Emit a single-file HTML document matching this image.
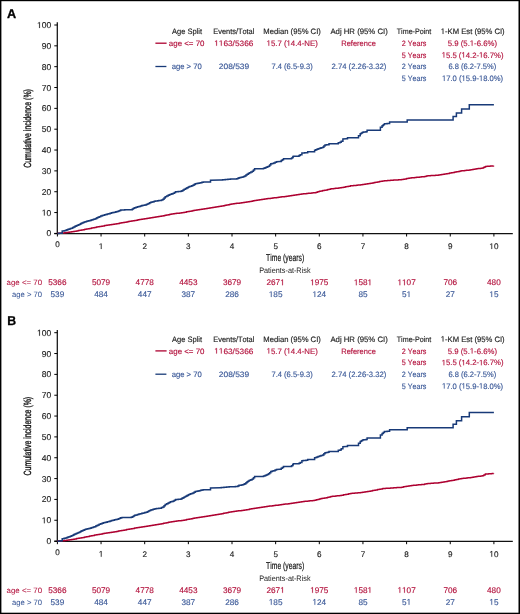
<!DOCTYPE html>
<html><head><meta charset="utf-8"><style>
html,body{margin:0;padding:0;background:#fff;}
body{width:520px;height:614px;overflow:hidden;}
svg{display:block;will-change:transform;text-rendering:geometricPrecision;font-family:"Liberation Sans", sans-serif;font-kerning:none;}
text{stroke:currentColor;stroke-width:0.15px;paint-order:stroke;}
</style></head><body>
<svg width="520" height="614" viewBox="0 0 520 614">
<rect x="0" y="0" width="520" height="614" fill="#fff"/>
<g>
<text transform="translate(6.98,17.70) scale(0.9821,1)" font-size="12.9" fill="#000" color="#000" font-weight="bold" style="stroke-width:0.3px">A</text>
<path d="M57.3,22.3 V234.2 M54.3,233.7 H512.8" stroke="#111" stroke-width="1.25" fill="none"/>
<path d="M54.3,233.40 H57.3 M54.3,212.56 H57.3 M54.3,191.72 H57.3 M54.3,170.88 H57.3 M54.3,150.04 H57.3 M54.3,129.20 H57.3 M54.3,108.36 H57.3 M54.3,87.52 H57.3 M54.3,66.68 H57.3 M54.3,45.84 H57.3 M54.3,25.00 H57.3 M57.40,233.4 V236.5 M101.05,233.4 V236.5 M144.70,233.4 V236.5 M188.35,233.4 V236.5 M232.00,233.4 V236.5 M275.65,233.4 V236.5 M319.30,233.4 V236.5 M362.95,233.4 V236.5 M406.60,233.4 V236.5 M450.25,233.4 V236.5 M493.90,233.4 V236.5" stroke="#000" stroke-width="1" fill="none"/>
<text x="46.50" y="236.40" font-size="8.5" fill="#222" color="#222">0</text>
<path d="M515 0V1237L197 1010V1180L530 1409H696V0Z" transform="translate(41.777,215.560) scale(0.00415,-0.00415)" fill="#222" stroke="#222" stroke-width="0.15" vector-effect="non-scaling-stroke"/><text x="41.78" y="215.56" font-size="8.5" fill="#222" color="#222"> 0</text>
<text x="41.78" y="194.72" font-size="8.5" fill="#222" color="#222">20</text>
<text x="41.78" y="173.88" font-size="8.5" fill="#222" color="#222">30</text>
<text x="41.78" y="153.04" font-size="8.5" fill="#222" color="#222">40</text>
<text x="41.78" y="132.20" font-size="8.5" fill="#222" color="#222">50</text>
<text x="41.78" y="111.36" font-size="8.5" fill="#222" color="#222">60</text>
<text x="41.78" y="90.52" font-size="8.5" fill="#222" color="#222">70</text>
<text x="41.78" y="69.68" font-size="8.5" fill="#222" color="#222">80</text>
<text x="41.78" y="48.84" font-size="8.5" fill="#222" color="#222">90</text>
<path d="M515 0V1237L197 1010V1180L530 1409H696V0Z" transform="translate(37.050,28.000) scale(0.00415,-0.00415)" fill="#222" stroke="#222" stroke-width="0.15" vector-effect="non-scaling-stroke"/><text x="37.05" y="28.00" font-size="8.5" fill="#222" color="#222"> 00</text>
<text x="55.15" y="247.30" font-size="8.1" fill="#222" color="#222">0</text>
<path d="M515 0V1237L197 1010V1180L530 1409H696V0Z" transform="translate(98.798,249.000) scale(0.00396,-0.00396)" fill="#222" stroke="#222" stroke-width="0.15" vector-effect="non-scaling-stroke"/><text x="98.80" y="249.00" font-size="8.1" fill="#222" color="#222"> </text>
<text x="142.45" y="249.00" font-size="8.1" fill="#222" color="#222">2</text>
<text x="186.10" y="249.00" font-size="8.1" fill="#222" color="#222">3</text>
<text x="229.75" y="249.00" font-size="8.1" fill="#222" color="#222">4</text>
<text x="273.40" y="249.00" font-size="8.1" fill="#222" color="#222">5</text>
<text x="317.05" y="249.00" font-size="8.1" fill="#222" color="#222">6</text>
<text x="360.70" y="249.00" font-size="8.1" fill="#222" color="#222">7</text>
<text x="404.35" y="249.00" font-size="8.1" fill="#222" color="#222">8</text>
<text x="448.00" y="249.00" font-size="8.1" fill="#222" color="#222">9</text>
<path d="M515 0V1237L197 1010V1180L530 1409H696V0Z" transform="translate(489.395,249.000) scale(0.00396,-0.00396)" fill="#222" stroke="#222" stroke-width="0.15" vector-effect="non-scaling-stroke"/><text x="489.40" y="249.00" font-size="8.1" fill="#222" color="#222"> 0</text>
<text transform="translate(266.10,260.90) scale(0.6785,1)" font-size="10.0" fill="#111" color="#111" style="stroke-width:0.2px">Time (years)</text>
<text transform="translate(259.15,273.40) scale(0.9226,1)" font-size="7.9" fill="#222" color="#222" style="stroke-width:0.0px">Patients-at-Risk</text>
<text transform="translate(31.2,167.75) rotate(-90) scale(0.6673,1)" font-size="10.4" fill="#111" color="#111" style="stroke-width:0.35px">Cumulative incidence (%)</text>
<polyline points="57.50,233.30 62.70,233.10 64.46,233.10 64.46,232.84 66.22,232.84 66.22,232.58 67.98,232.58 67.98,232.32 69.74,232.32 69.74,232.06 71.50,232.06 71.50,231.80 73.16,231.80 73.16,231.50 74.81,231.50 74.81,231.20 76.47,231.20 76.47,230.90 78.13,230.90 78.13,230.60 79.79,230.60 79.79,230.30 81.44,230.30 81.44,230.00 83.10,230.00 83.10,229.70 84.74,229.70 84.74,229.37 86.39,229.37 86.39,229.04 88.03,229.04 88.03,228.71 89.67,228.71 89.67,228.39 91.31,228.39 91.31,228.06 92.96,228.06 92.96,227.73 94.60,227.73 94.60,227.40 96.26,227.40 96.26,227.10 97.91,227.10 97.91,226.80 99.57,226.80 99.57,226.50 101.23,226.50 101.23,226.20 102.89,226.20 102.89,225.90 104.54,225.90 104.54,225.60 106.20,225.60 106.20,225.30 107.97,225.30 107.97,225.07 109.73,225.07 109.73,224.83 111.50,224.83 111.50,224.60 113.16,224.60 113.16,224.30 114.81,224.30 114.81,224.00 116.47,224.00 116.47,223.70 118.13,223.70 118.13,223.40 119.79,223.40 119.79,223.10 121.44,223.10 121.44,222.80 123.10,222.80 123.10,222.50 124.74,222.50 124.74,222.20 126.39,222.20 126.39,221.90 128.03,221.90 128.03,221.60 129.67,221.60 129.67,221.30 131.31,221.30 131.31,221.00 132.96,221.00 132.96,220.70 134.60,220.70 134.60,220.40 136.26,220.40 136.26,220.13 137.91,220.13 137.91,219.86 139.57,219.86 139.57,219.59 141.23,219.59 141.23,219.31 142.89,219.31 142.89,219.04 144.54,219.04 144.54,218.77 146.20,218.77 146.20,218.50 147.73,218.50 147.73,218.26 149.27,218.26 149.27,218.01 150.80,218.01 150.80,217.77 152.33,217.77 152.33,217.52 153.87,217.52 153.87,217.28 155.40,217.28 155.40,217.03 156.93,217.03 156.93,216.79 158.47,216.79 158.47,216.54 160.00,216.54 160.00,216.30 161.64,216.30 161.64,215.97 163.29,215.97 163.29,215.64 164.93,215.64 164.93,215.31 166.57,215.31 166.57,214.99 168.21,214.99 168.21,214.66 169.86,214.66 169.86,214.33 171.50,214.33 171.50,214.00 173.16,214.00 173.16,213.79 174.81,213.79 174.81,213.57 176.47,213.57 176.47,213.36 178.13,213.36 178.13,213.14 179.79,213.14 179.79,212.93 181.44,212.93 181.44,212.71 183.10,212.71 183.10,212.50 184.74,212.50 184.74,212.19 186.39,212.19 186.39,211.87 188.03,211.87 188.03,211.56 189.67,211.56 189.67,211.24 191.31,211.24 191.31,210.93 192.96,210.93 192.96,210.61 194.60,210.61 194.60,210.30 196.26,210.30 196.26,210.06 197.91,210.06 197.91,209.81 199.57,209.81 199.57,209.57 201.23,209.57 201.23,209.33 202.89,209.33 202.89,209.09 204.54,209.09 204.54,208.84 206.20,208.84 206.20,208.60 207.73,208.60 207.73,208.34 209.27,208.34 209.27,208.09 210.80,208.09 210.80,207.83 212.33,207.83 212.33,207.58 213.87,207.58 213.87,207.32 215.40,207.32 215.40,207.07 216.93,207.07 216.93,206.81 218.47,206.81 218.47,206.56 220.00,206.56 220.00,206.30 221.64,206.30 221.64,205.97 223.29,205.97 223.29,205.64 224.93,205.64 224.93,205.31 226.57,205.31 226.57,204.99 228.21,204.99 228.21,204.66 229.86,204.66 229.86,204.33 231.50,204.33 231.50,204.00 233.16,204.00 233.16,203.79 234.81,203.79 234.81,203.57 236.47,203.57 236.47,203.36 238.13,203.36 238.13,203.14 239.79,203.14 239.79,202.93 241.44,202.93 241.44,202.71 243.10,202.71 243.10,202.50 244.74,202.50 244.74,202.23 246.39,202.23 246.39,201.96 248.03,201.96 248.03,201.69 249.67,201.69 249.67,201.41 251.31,201.41 251.31,201.14 252.96,201.14 252.96,200.87 254.60,200.87 254.60,200.60 256.26,200.60 256.26,200.34 257.91,200.34 257.91,200.09 259.57,200.09 259.57,199.83 261.23,199.83 261.23,199.57 262.89,199.57 262.89,199.31 264.54,199.31 264.54,199.06 266.20,199.06 266.20,198.80 267.73,198.80 267.73,198.61 269.27,198.61 269.27,198.42 270.80,198.42 270.80,198.23 272.33,198.23 272.33,198.04 273.87,198.04 273.87,197.86 275.40,197.86 275.40,197.67 276.93,197.67 276.93,197.48 278.47,197.48 278.47,197.29 280.00,197.29 280.00,197.10 281.64,197.10 281.64,196.87 283.29,196.87 283.29,196.64 284.93,196.64 284.93,196.41 286.57,196.41 286.57,196.19 288.21,196.19 288.21,195.96 289.86,195.96 289.86,195.73 291.50,195.73 291.50,195.50 293.16,195.50 293.16,195.26 294.81,195.26 294.81,195.01 296.47,195.01 296.47,194.77 298.13,194.77 298.13,194.53 299.79,194.53 299.79,194.29 301.44,194.29 301.44,194.04 303.10,194.04 303.10,193.80 304.74,193.80 304.74,193.64 306.39,193.64 306.39,193.47 308.03,193.47 308.03,193.31 309.67,193.31 309.67,193.14 311.31,193.14 311.31,192.98 312.96,192.98 312.96,192.81 314.60,192.81 314.60,192.65 316.13,192.65 316.13,192.17 317.67,192.17 317.67,191.68 319.20,191.68 319.20,191.20 320.95,191.20 320.95,190.90 322.70,190.90 322.70,190.60 324.45,190.60 324.45,190.30 326.20,190.30 326.20,190.00 327.73,190.00 327.73,189.60 329.27,189.60 329.27,189.20 330.80,189.20 330.80,188.80 332.33,188.80 332.33,188.63 333.87,188.63 333.87,188.47 335.40,188.47 335.40,188.30 336.93,188.30 336.93,188.13 338.47,188.13 338.47,187.97 340.00,187.97 340.00,187.80 341.73,187.80 341.73,187.47 343.47,187.47 343.47,187.13 345.20,187.13 345.20,186.80 346.93,186.80 346.93,186.47 348.67,186.47 348.67,186.13 350.40,186.13 350.40,185.80 351.89,185.80 351.89,185.66 353.37,185.66 353.37,185.53 354.86,185.53 354.86,185.39 356.34,185.39 356.34,185.26 357.83,185.26 357.83,185.12 359.31,185.12 359.31,184.99 360.80,184.99 360.80,184.85 362.44,184.85 362.44,184.57 364.09,184.57 364.09,184.29 365.73,184.29 365.73,184.01 367.37,184.01 367.37,183.74 369.01,183.74 369.01,183.46 370.66,183.46 370.66,183.18 372.30,183.18 372.30,182.90 374.03,182.90 374.03,182.57 375.77,182.57 375.77,182.23 377.50,182.23 377.50,181.90 379.23,181.90 379.23,181.57 380.97,181.57 380.97,181.23 382.70,181.23 382.70,180.90 384.23,180.90 384.23,180.78 385.77,180.78 385.77,180.67 387.30,180.67 387.30,180.55 388.83,180.55 388.83,180.43 390.37,180.43 390.37,180.32 391.90,180.32 391.90,180.20 393.52,180.20 393.52,180.10 395.14,180.10 395.14,180.00 396.76,180.00 396.76,179.90 398.38,179.90 398.38,179.80 400.00,179.80 400.00,179.70 401.64,179.70 401.64,179.43 403.29,179.43 403.29,179.16 404.93,179.16 404.93,178.89 406.57,178.89 406.57,178.61 408.21,178.61 408.21,178.34 409.86,178.34 409.86,178.07 411.50,178.07 411.50,177.80 413.16,177.80 413.16,177.64 414.81,177.64 414.81,177.49 416.47,177.49 416.47,177.33 418.13,177.33 418.13,177.17 419.79,177.17 419.79,177.01 421.44,177.01 421.44,176.86 423.10,176.86 423.10,176.70 424.63,176.70 424.63,176.40 426.17,176.40 426.17,176.10 427.70,176.10 427.70,175.80 429.23,175.80 429.23,175.70 430.77,175.70 430.77,175.60 432.30,175.60 432.30,175.50 433.83,175.50 433.83,175.40 435.37,175.40 435.37,175.30 436.90,175.30 436.90,175.20 438.45,175.20 438.45,174.95 440.00,174.95 440.00,174.70 441.55,174.70 441.55,174.45 443.10,174.45 443.10,174.20 444.65,174.20 444.65,173.95 446.20,173.95 446.20,173.70 447.93,173.70 447.93,173.40 449.65,173.40 449.65,173.10 451.38,173.10 451.38,172.80 453.10,172.80 453.10,172.50 454.83,172.50 454.83,172.12 456.55,172.12 456.55,171.75 458.27,171.75 458.27,171.38 460.00,171.38 460.00,171.00 461.54,171.00 461.54,170.83 463.09,170.83 463.09,170.66 464.63,170.66 464.63,170.49 466.17,170.49 466.17,170.31 467.71,170.31 467.71,170.14 469.26,170.14 469.26,169.97 470.80,169.97 470.80,169.80 472.23,169.80 472.23,169.55 473.65,169.55 473.65,169.30 475.07,169.30 475.07,169.05 476.50,169.05 476.50,168.80 477.95,168.80 477.95,168.62 479.40,168.62 479.40,168.45 480.85,168.45 480.85,168.28 482.30,168.28 482.30,168.10 483.75,168.10 483.75,167.25 485.20,167.25 485.20,166.40 486.88,166.40 486.88,166.28 488.56,166.28 488.56,166.16 490.24,166.16 490.24,166.04 491.92,166.04 491.92,165.92 493.60,165.92 493.60,165.80" stroke="#ad0030" stroke-width="1.5" fill="none" stroke-linejoin="round"/>
<polyline transform="translate(0,0.15)" points="57.50,233.30 58.75,233.30 58.75,233.20 60.00,233.20 60.00,233.10 61.25,233.10 61.25,233.00 62.20,233.00 62.20,230.80 64.10,230.80 64.10,230.50 65.50,230.50 65.50,230.05 66.90,230.05 66.90,229.60 68.05,229.60 68.05,229.20 69.20,229.20 69.20,228.80 70.35,228.80 70.35,228.40 71.50,228.40 71.50,228.00 72.67,228.00 72.67,227.37 73.83,227.37 73.83,226.73 75.00,226.73 75.00,226.10 76.17,226.10 76.17,225.60 77.33,225.60 77.33,225.10 78.50,225.10 78.50,224.60 79.63,224.60 79.63,224.03 80.77,224.03 80.77,223.47 81.90,223.47 81.90,222.90 83.07,222.90 83.07,222.43 84.23,222.43 84.23,221.97 85.40,221.97 85.40,221.50 86.55,221.50 86.55,221.20 87.70,221.20 87.70,220.90 88.85,220.90 88.85,220.60 90.00,220.60 90.00,220.30 91.15,220.30 91.15,219.93 92.30,219.93 92.30,219.55 93.45,219.55 93.45,219.18 94.60,219.18 94.60,218.80 95.75,218.80 95.75,218.23 96.90,218.23 96.90,217.65 98.05,217.65 98.05,217.07 99.20,217.07 99.20,216.50 100.65,216.50 100.65,215.90 102.10,215.90 102.10,215.30 103.33,215.30 103.33,215.00 104.57,215.00 104.57,214.70 105.80,214.70 105.80,214.40 107.22,214.40 107.22,213.97 108.65,213.97 108.65,213.55 110.08,213.55 110.08,213.12 111.50,213.12 111.50,212.70 112.95,212.70 112.95,212.35 114.40,212.35 114.40,212.00 115.85,212.00 115.85,211.65 117.30,211.65 117.30,211.30 118.47,211.30 118.47,210.80 119.63,210.80 119.63,210.30 120.80,210.30 120.80,209.80 122.10,209.80 122.10,209.76 123.40,209.76 123.40,209.73 124.70,209.73 124.70,209.69 126.00,209.69 126.00,209.65 127.30,209.65 127.30,209.61 128.60,209.61 128.60,209.57 129.90,209.57 129.90,209.54 131.20,209.54 131.20,209.50 132.33,209.50 132.33,208.83 133.47,208.83 133.47,208.17 134.60,208.17 134.60,207.50 136.05,207.50 136.05,207.07 137.50,207.07 137.50,206.65 138.95,206.65 138.95,206.23 140.40,206.23 140.40,205.80 141.85,205.80 141.85,205.45 143.30,205.45 143.30,205.10 144.75,205.10 144.75,204.75 146.20,204.75 146.20,204.40 147.35,204.40 147.35,203.82 148.50,203.82 148.50,203.25 149.65,203.25 149.65,202.68 150.80,202.68 150.80,202.10 151.95,202.10 151.95,201.80 153.10,201.80 153.10,201.50 154.25,201.50 154.25,201.20 155.40,201.20 155.40,200.90 156.55,200.90 156.55,200.75 157.70,200.75 157.70,200.60 158.85,200.60 158.85,200.45 160.00,200.45 160.00,200.30 161.45,200.30 161.45,199.75 162.90,199.75 162.90,199.20 164.05,199.20 164.05,197.95 165.20,197.95 165.20,196.70 166.65,196.70 166.65,195.95 168.10,195.95 168.10,195.20 169.25,195.20 169.25,194.60 170.40,194.60 170.40,194.00 171.85,194.00 171.85,193.60 173.30,193.60 173.30,193.20 174.45,193.20 174.45,192.45 175.60,192.45 175.60,191.70 176.90,191.70 176.90,191.57 178.20,191.57 178.20,191.45 179.50,191.45 179.50,191.32 180.80,191.32 180.80,191.20 181.93,191.20 181.93,190.50 183.07,190.50 183.07,189.80 184.20,189.80 184.20,189.10 185.57,189.10 185.57,188.33 186.93,188.33 186.93,187.57 188.30,187.57 188.30,186.80 189.45,186.80 189.45,186.40 190.60,186.40 190.60,186.00 191.75,186.00 191.75,185.60 192.90,185.60 192.90,185.20 194.05,185.20 194.05,184.45 195.20,184.45 195.20,183.70 196.53,183.70 196.53,183.40 197.87,183.40 197.87,183.10 199.20,183.10 199.20,182.80 200.57,182.80 200.57,182.50 201.93,182.50 201.93,182.20 203.30,182.20 203.30,181.90 209.00,181.90 210.50,181.90 210.50,180.20 220.00,179.90 221.31,179.90 221.31,179.77 222.63,179.77 222.63,179.64 223.94,179.64 223.94,179.51 225.26,179.51 225.26,179.39 226.57,179.39 226.57,179.26 227.89,179.26 227.89,179.13 229.20,179.13 229.20,179.00 230.45,179.00 230.45,178.95 231.70,178.95 231.70,178.90 232.95,178.90 232.95,178.85 234.20,178.85 234.20,178.80 235.45,178.80 235.45,178.75 236.70,178.75 236.70,178.70 237.85,178.70 237.85,178.10 239.00,178.10 239.00,177.50 240.17,177.50 240.17,177.30 241.33,177.30 241.33,177.10 242.50,177.10 242.50,176.90 243.65,176.90 243.65,176.35 244.80,176.35 244.80,175.80 245.95,175.80 245.95,174.90 247.10,174.90 247.10,174.00 248.25,174.00 248.25,173.25 249.40,173.25 249.40,172.50 250.85,172.50 250.85,171.85 252.30,171.85 252.30,171.20 253.45,171.20 253.45,169.90 254.60,169.90 254.60,168.60 262.10,168.60 263.55,168.60 263.55,168.15 265.00,168.15 265.00,167.70 266.17,167.70 266.17,167.13 267.33,167.13 267.33,166.57 268.50,166.57 268.50,166.00 269.65,166.00 269.65,164.85 270.80,164.85 270.80,163.70 272.25,163.70 272.25,163.25 273.70,163.25 273.70,162.80 275.10,162.80 275.10,162.20 276.50,162.20 276.50,161.60 280.00,161.40 281.20,161.40 281.20,160.40 282.35,160.40 282.35,159.55 283.50,159.55 283.50,158.70 290.40,158.70 291.55,158.70 291.55,157.80 292.70,157.80 292.70,156.90 293.30,156.90 293.30,156.00 297.90,156.00 299.05,156.00 299.05,155.30 300.20,155.30 300.20,154.60 301.90,154.60 301.90,152.90 303.27,152.90 303.27,152.77 304.63,152.77 304.63,152.63 306.00,152.63 306.00,152.50 307.70,152.50 307.70,151.70 312.90,151.70 314.60,151.70 314.60,150.00 315.77,150.00 315.77,149.53 316.93,149.53 316.93,149.07 318.10,149.07 318.10,148.60 319.55,148.60 319.55,148.15 321.00,148.15 321.00,147.70 322.70,147.70 322.70,147.10 323.85,147.10 323.85,145.95 325.00,145.95 325.00,144.80 326.45,144.80 326.45,144.65 327.90,144.65 327.90,144.50 329.00,144.50 329.00,143.70 337.10,143.70 338.30,143.70 338.30,142.50 340.00,142.50 340.00,142.10 341.20,142.10 341.20,141.00 342.90,141.00 342.90,138.90 346.30,138.70 347.50,138.70 347.50,137.70 357.30,137.70 358.50,137.70 358.50,135.50 360.20,135.50 360.20,133.70 361.35,133.70 361.35,132.90 362.50,132.90 362.50,132.10 363.67,132.10 363.67,131.97 364.83,131.97 364.83,131.83 366.00,131.83 366.00,131.70 367.10,131.70 367.10,130.20 379.80,130.20 380.40,130.20 380.40,127.10 382.10,127.10 382.10,125.60 383.25,125.60 383.25,124.65 384.40,124.65 384.40,123.70 385.77,123.70 385.77,123.57 387.13,123.57 387.13,123.43 388.50,123.43 388.50,123.30 389.60,123.30 389.60,121.90 407.20,121.90 407.20,119.90 453.10,119.90 453.10,116.30 456.40,116.30 456.40,112.80 461.60,112.80 461.60,108.80 469.30,108.80 469.30,104.70 493.90,104.70" stroke="#183a78" stroke-width="1.5" fill="none" stroke-linejoin="miter"/>
<text transform="translate(171.99,33.90) scale(0.9632,1)" font-size="7.8" fill="#222" color="#222">Age Split</text>
<text transform="translate(213.29,33.90) scale(0.9481,1)" font-size="7.8" fill="#222" color="#222">Events/Total</text>
<text transform="translate(263.27,33.90) scale(0.9843,1)" font-size="7.8" fill="#222" color="#222">Median (95% CI)</text>
<text transform="translate(330.38,33.90) scale(0.9957,1)" font-size="7.8" fill="#222" color="#222">Adj HR (95% CI)</text>
<text transform="translate(396.74,33.90) scale(0.9152,1)" font-size="7.8" fill="#222" color="#222">Time-Point</text>
<path d="M515 0V1237L197 1010V1180L530 1409H696V0Z" transform="translate(440.762,33.900) scale(0.00374,-0.00381)" fill="#222" stroke="#222" stroke-width="0.15" vector-effect="non-scaling-stroke"/><text transform="translate(440.76,33.90) scale(0.9831,1)" font-size="7.8" fill="#222" color="#222"> -KM Est (95% CI)</text>
<path d="M155.4,43.2 H166.6" stroke="#ad0030" stroke-width="1.3"/>
<path d="M155.4,66.5 H166.4" stroke="#183a78" stroke-width="1.3"/>
<text transform="translate(168.86,45.80) scale(1.0145,1)" font-size="7.8" fill="#b3123d" color="#b3123d">age &lt;= 70</text>
<path d="M515 0V1237L197 1010V1180L530 1409H696V0Z" transform="translate(214.203,45.800) scale(0.00405,-0.00381)" fill="#b3123d" stroke="#b3123d" stroke-width="0.15" vector-effect="non-scaling-stroke"/><path d="M515 0V1237L197 1010V1180L530 1409H696V0Z" transform="translate(218.811,45.800) scale(0.00405,-0.00381)" fill="#b3123d" stroke="#b3123d" stroke-width="0.15" vector-effect="non-scaling-stroke"/><text transform="translate(214.20,45.80) scale(1.0621,1)" font-size="7.8" fill="#b3123d" color="#b3123d">  63/5366</text>
<path d="M515 0V1237L197 1010V1180L530 1409H696V0Z" transform="translate(266.549,45.800) scale(0.00381,-0.00381)" fill="#b3123d" stroke="#b3123d" stroke-width="0.15" vector-effect="non-scaling-stroke"/><path d="M515 0V1237L197 1010V1180L530 1409H696V0Z" transform="translate(286.525,45.800) scale(0.00381,-0.00381)" fill="#b3123d" stroke="#b3123d" stroke-width="0.15" vector-effect="non-scaling-stroke"/><text transform="translate(266.55,45.80) scale(1.0015,1)" font-size="7.8" fill="#b3123d" color="#b3123d"> 5.7 ( 4.4-NE)</text>
<text transform="translate(341.29,45.80) scale(0.9600,1)" font-size="7.8" fill="#b3123d" color="#b3123d">Reference</text>
<text transform="translate(401.64,45.80) scale(0.9234,1)" font-size="7.8" fill="#b3123d" color="#b3123d">2 Years</text>
<path d="M515 0V1237L197 1010V1180L530 1409H696V0Z" transform="translate(469.798,45.800) scale(0.00379,-0.00381)" fill="#b3123d" stroke="#b3123d" stroke-width="0.15" vector-effect="non-scaling-stroke"/><text transform="translate(447.79,45.80) scale(0.9953,1)" font-size="7.8" fill="#b3123d" color="#b3123d">5.9 (5. -6.6%)</text>
<text transform="translate(401.71,57.60) scale(0.9206,1)" font-size="7.8" fill="#b3123d" color="#b3123d">5 Years</text>
<path d="M515 0V1237L197 1010V1180L530 1409H696V0Z" transform="translate(441.657,57.600) scale(0.00377,-0.00381)" fill="#b3123d" stroke="#b3123d" stroke-width="0.15" vector-effect="non-scaling-stroke"/><path d="M515 0V1237L197 1010V1180L530 1409H696V0Z" transform="translate(461.406,57.600) scale(0.00377,-0.00381)" fill="#b3123d" stroke="#b3123d" stroke-width="0.15" vector-effect="non-scaling-stroke"/><path d="M515 0V1237L197 1010V1180L530 1409H696V0Z" transform="translate(479.009,57.600) scale(0.00377,-0.00381)" fill="#b3123d" stroke="#b3123d" stroke-width="0.15" vector-effect="non-scaling-stroke"/><text transform="translate(441.66,57.60) scale(0.9901,1)" font-size="7.8" fill="#b3123d" color="#b3123d"> 5.5 ( 4.2- 6.7%)</text>
<text transform="translate(171.67,69.20) scale(0.9852,1)" font-size="7.8" fill="#3b5998" color="#3b5998">age &gt; 70</text>
<text transform="translate(218.78,69.20) scale(1.0790,1)" font-size="7.8" fill="#3b5998" color="#3b5998">208/539</text>
<text transform="translate(271.51,69.20) scale(0.9686,1)" font-size="7.8" fill="#3b5998" color="#3b5998">7.4 (6.5-9.3)</text>
<text transform="translate(331.51,69.20) scale(0.9867,1)" font-size="7.8" fill="#3b5998" color="#3b5998">2.74 (2.26-3.32)</text>
<text transform="translate(401.64,69.20) scale(0.9234,1)" font-size="7.8" fill="#3b5998" color="#3b5998">2 Years</text>
<text transform="translate(448.42,69.20) scale(0.9682,1)" font-size="7.8" fill="#3b5998" color="#3b5998">6.8 (6.2-7.5%)</text>
<text transform="translate(401.71,80.90) scale(0.9206,1)" font-size="7.8" fill="#3b5998" color="#3b5998">5 Years</text>
<path d="M515 0V1237L197 1010V1180L530 1409H696V0Z" transform="translate(441.964,80.900) scale(0.00373,-0.00381)" fill="#3b5998" stroke="#3b5998" stroke-width="0.15" vector-effect="non-scaling-stroke"/><path d="M515 0V1237L197 1010V1180L530 1409H696V0Z" transform="translate(461.518,80.900) scale(0.00373,-0.00381)" fill="#3b5998" stroke="#3b5998" stroke-width="0.15" vector-effect="non-scaling-stroke"/><path d="M515 0V1237L197 1010V1180L530 1409H696V0Z" transform="translate(478.946,80.900) scale(0.00373,-0.00381)" fill="#3b5998" stroke="#3b5998" stroke-width="0.15" vector-effect="non-scaling-stroke"/><text transform="translate(441.96,80.90) scale(0.9803,1)" font-size="7.8" fill="#3b5998" color="#3b5998"> 7.0 ( 5.9- 8.0%)</text>
<text transform="translate(6.56,285.30) scale(1.0248,1)" font-size="7.7" fill="#b3123d" color="#b3123d" style="stroke-width:0.05px">age &lt;= 70</text>
<text transform="translate(11.97,297.20) scale(0.9980,1)" font-size="7.7" fill="#3b5998" color="#3b5998" style="stroke-width:0.05px">age &gt; 70</text>
<text x="48.28" y="285.15" font-size="8.2" fill="#b3123d" color="#b3123d">5366</text>
<text x="91.93" y="285.15" font-size="8.2" fill="#b3123d" color="#b3123d">5079</text>
<text x="135.58" y="285.15" font-size="8.2" fill="#b3123d" color="#b3123d">4778</text>
<text x="179.23" y="285.15" font-size="8.2" fill="#b3123d" color="#b3123d">4453</text>
<text x="222.88" y="285.15" font-size="8.2" fill="#b3123d" color="#b3123d">3679</text>
<path d="M515 0V1237L197 1010V1180L530 1409H696V0Z" transform="translate(280.210,285.150) scale(0.00400,-0.00400)" fill="#b3123d" stroke="#b3123d" stroke-width="0.15" vector-effect="non-scaling-stroke"/><text x="266.53" y="285.15" font-size="8.2" fill="#b3123d" color="#b3123d">267 </text>
<path d="M515 0V1237L197 1010V1180L530 1409H696V0Z" transform="translate(310.179,285.150) scale(0.00400,-0.00400)" fill="#b3123d" stroke="#b3123d" stroke-width="0.15" vector-effect="non-scaling-stroke"/><text x="310.18" y="285.15" font-size="8.2" fill="#b3123d" color="#b3123d"> 975</text>
<path d="M515 0V1237L197 1010V1180L530 1409H696V0Z" transform="translate(353.829,285.150) scale(0.00400,-0.00400)" fill="#b3123d" stroke="#b3123d" stroke-width="0.15" vector-effect="non-scaling-stroke"/><path d="M515 0V1237L197 1010V1180L530 1409H696V0Z" transform="translate(367.510,285.150) scale(0.00400,-0.00400)" fill="#b3123d" stroke="#b3123d" stroke-width="0.15" vector-effect="non-scaling-stroke"/><text x="353.83" y="285.15" font-size="8.2" fill="#b3123d" color="#b3123d"> 58 </text>
<path d="M515 0V1237L197 1010V1180L530 1409H696V0Z" transform="translate(397.479,285.150) scale(0.00400,-0.00400)" fill="#b3123d" stroke="#b3123d" stroke-width="0.15" vector-effect="non-scaling-stroke"/><path d="M515 0V1237L197 1010V1180L530 1409H696V0Z" transform="translate(402.040,285.150) scale(0.00400,-0.00400)" fill="#b3123d" stroke="#b3123d" stroke-width="0.15" vector-effect="non-scaling-stroke"/><text x="397.48" y="285.15" font-size="8.2" fill="#b3123d" color="#b3123d">  07</text>
<text x="443.41" y="285.15" font-size="8.2" fill="#b3123d" color="#b3123d">706</text>
<text x="487.06" y="285.15" font-size="8.2" fill="#b3123d" color="#b3123d">480</text>
<text x="50.56" y="297.05" font-size="8.2" fill="#3b5998" color="#3b5998">539</text>
<text x="94.21" y="297.05" font-size="8.2" fill="#3b5998" color="#3b5998">484</text>
<text x="137.86" y="297.05" font-size="8.2" fill="#3b5998" color="#3b5998">447</text>
<text x="181.51" y="297.05" font-size="8.2" fill="#3b5998" color="#3b5998">387</text>
<text x="225.16" y="297.05" font-size="8.2" fill="#3b5998" color="#3b5998">286</text>
<path d="M515 0V1237L197 1010V1180L530 1409H696V0Z" transform="translate(268.809,297.050) scale(0.00400,-0.00400)" fill="#3b5998" stroke="#3b5998" stroke-width="0.15" vector-effect="non-scaling-stroke"/><text x="268.81" y="297.05" font-size="8.2" fill="#3b5998" color="#3b5998"> 85</text>
<path d="M515 0V1237L197 1010V1180L530 1409H696V0Z" transform="translate(312.459,297.050) scale(0.00400,-0.00400)" fill="#3b5998" stroke="#3b5998" stroke-width="0.15" vector-effect="non-scaling-stroke"/><text x="312.46" y="297.05" font-size="8.2" fill="#3b5998" color="#3b5998"> 24</text>
<text x="358.39" y="297.05" font-size="8.2" fill="#3b5998" color="#3b5998">85</text>
<path d="M515 0V1237L197 1010V1180L530 1409H696V0Z" transform="translate(406.600,297.050) scale(0.00400,-0.00400)" fill="#3b5998" stroke="#3b5998" stroke-width="0.15" vector-effect="non-scaling-stroke"/><text x="402.04" y="297.05" font-size="8.2" fill="#3b5998" color="#3b5998">5 </text>
<text x="445.69" y="297.05" font-size="8.2" fill="#3b5998" color="#3b5998">27</text>
<path d="M515 0V1237L197 1010V1180L530 1409H696V0Z" transform="translate(489.340,297.050) scale(0.00400,-0.00400)" fill="#3b5998" stroke="#3b5998" stroke-width="0.15" vector-effect="non-scaling-stroke"/><text x="489.34" y="297.05" font-size="8.2" fill="#3b5998" color="#3b5998"> 5</text>
</g>
<g transform="translate(0,307.7)">
<text transform="translate(7.28,17.30) scale(0.9533,1)" font-size="12.9" fill="#000" color="#000" font-weight="bold" style="stroke-width:0.3px">B</text>
<path d="M57.3,22.3 V234.2 M54.3,233.7 H512.8" stroke="#111" stroke-width="1.25" fill="none"/>
<path d="M54.3,233.40 H57.3 M54.3,212.56 H57.3 M54.3,191.72 H57.3 M54.3,170.88 H57.3 M54.3,150.04 H57.3 M54.3,129.20 H57.3 M54.3,108.36 H57.3 M54.3,87.52 H57.3 M54.3,66.68 H57.3 M54.3,45.84 H57.3 M54.3,25.00 H57.3 M57.40,233.4 V236.5 M101.05,233.4 V236.5 M144.70,233.4 V236.5 M188.35,233.4 V236.5 M232.00,233.4 V236.5 M275.65,233.4 V236.5 M319.30,233.4 V236.5 M362.95,233.4 V236.5 M406.60,233.4 V236.5 M450.25,233.4 V236.5 M493.90,233.4 V236.5" stroke="#000" stroke-width="1" fill="none"/>
<text x="46.50" y="236.40" font-size="8.5" fill="#222" color="#222">0</text>
<path d="M515 0V1237L197 1010V1180L530 1409H696V0Z" transform="translate(41.777,215.560) scale(0.00415,-0.00415)" fill="#222" stroke="#222" stroke-width="0.15" vector-effect="non-scaling-stroke"/><text x="41.78" y="215.56" font-size="8.5" fill="#222" color="#222"> 0</text>
<text x="41.78" y="194.72" font-size="8.5" fill="#222" color="#222">20</text>
<text x="41.78" y="173.88" font-size="8.5" fill="#222" color="#222">30</text>
<text x="41.78" y="153.04" font-size="8.5" fill="#222" color="#222">40</text>
<text x="41.78" y="132.20" font-size="8.5" fill="#222" color="#222">50</text>
<text x="41.78" y="111.36" font-size="8.5" fill="#222" color="#222">60</text>
<text x="41.78" y="90.52" font-size="8.5" fill="#222" color="#222">70</text>
<text x="41.78" y="69.68" font-size="8.5" fill="#222" color="#222">80</text>
<text x="41.78" y="48.84" font-size="8.5" fill="#222" color="#222">90</text>
<path d="M515 0V1237L197 1010V1180L530 1409H696V0Z" transform="translate(37.050,28.000) scale(0.00415,-0.00415)" fill="#222" stroke="#222" stroke-width="0.15" vector-effect="non-scaling-stroke"/><text x="37.05" y="28.00" font-size="8.5" fill="#222" color="#222"> 00</text>
<text x="55.15" y="247.30" font-size="8.1" fill="#222" color="#222">0</text>
<path d="M515 0V1237L197 1010V1180L530 1409H696V0Z" transform="translate(98.798,249.000) scale(0.00396,-0.00396)" fill="#222" stroke="#222" stroke-width="0.15" vector-effect="non-scaling-stroke"/><text x="98.80" y="249.00" font-size="8.1" fill="#222" color="#222"> </text>
<text x="142.45" y="249.00" font-size="8.1" fill="#222" color="#222">2</text>
<text x="186.10" y="249.00" font-size="8.1" fill="#222" color="#222">3</text>
<text x="229.75" y="249.00" font-size="8.1" fill="#222" color="#222">4</text>
<text x="273.40" y="249.00" font-size="8.1" fill="#222" color="#222">5</text>
<text x="317.05" y="249.00" font-size="8.1" fill="#222" color="#222">6</text>
<text x="360.70" y="249.00" font-size="8.1" fill="#222" color="#222">7</text>
<text x="404.35" y="249.00" font-size="8.1" fill="#222" color="#222">8</text>
<text x="448.00" y="249.00" font-size="8.1" fill="#222" color="#222">9</text>
<path d="M515 0V1237L197 1010V1180L530 1409H696V0Z" transform="translate(489.395,249.000) scale(0.00396,-0.00396)" fill="#222" stroke="#222" stroke-width="0.15" vector-effect="non-scaling-stroke"/><text x="489.40" y="249.00" font-size="8.1" fill="#222" color="#222"> 0</text>
<text transform="translate(266.10,260.90) scale(0.6785,1)" font-size="10.0" fill="#111" color="#111" style="stroke-width:0.2px">Time (years)</text>
<text transform="translate(259.15,273.40) scale(0.9226,1)" font-size="7.9" fill="#222" color="#222" style="stroke-width:0.0px">Patients-at-Risk</text>
<text transform="translate(31.2,167.75) rotate(-90) scale(0.6673,1)" font-size="10.4" fill="#111" color="#111" style="stroke-width:0.35px">Cumulative incidence (%)</text>
<polyline points="57.50,233.30 62.70,233.10 64.46,233.10 64.46,232.84 66.22,232.84 66.22,232.58 67.98,232.58 67.98,232.32 69.74,232.32 69.74,232.06 71.50,232.06 71.50,231.80 73.16,231.80 73.16,231.50 74.81,231.50 74.81,231.20 76.47,231.20 76.47,230.90 78.13,230.90 78.13,230.60 79.79,230.60 79.79,230.30 81.44,230.30 81.44,230.00 83.10,230.00 83.10,229.70 84.74,229.70 84.74,229.37 86.39,229.37 86.39,229.04 88.03,229.04 88.03,228.71 89.67,228.71 89.67,228.39 91.31,228.39 91.31,228.06 92.96,228.06 92.96,227.73 94.60,227.73 94.60,227.40 96.26,227.40 96.26,227.10 97.91,227.10 97.91,226.80 99.57,226.80 99.57,226.50 101.23,226.50 101.23,226.20 102.89,226.20 102.89,225.90 104.54,225.90 104.54,225.60 106.20,225.60 106.20,225.30 107.97,225.30 107.97,225.07 109.73,225.07 109.73,224.83 111.50,224.83 111.50,224.60 113.16,224.60 113.16,224.30 114.81,224.30 114.81,224.00 116.47,224.00 116.47,223.70 118.13,223.70 118.13,223.40 119.79,223.40 119.79,223.10 121.44,223.10 121.44,222.80 123.10,222.80 123.10,222.50 124.74,222.50 124.74,222.20 126.39,222.20 126.39,221.90 128.03,221.90 128.03,221.60 129.67,221.60 129.67,221.30 131.31,221.30 131.31,221.00 132.96,221.00 132.96,220.70 134.60,220.70 134.60,220.40 136.26,220.40 136.26,220.13 137.91,220.13 137.91,219.86 139.57,219.86 139.57,219.59 141.23,219.59 141.23,219.31 142.89,219.31 142.89,219.04 144.54,219.04 144.54,218.77 146.20,218.77 146.20,218.50 147.73,218.50 147.73,218.26 149.27,218.26 149.27,218.01 150.80,218.01 150.80,217.77 152.33,217.77 152.33,217.52 153.87,217.52 153.87,217.28 155.40,217.28 155.40,217.03 156.93,217.03 156.93,216.79 158.47,216.79 158.47,216.54 160.00,216.54 160.00,216.30 161.64,216.30 161.64,215.97 163.29,215.97 163.29,215.64 164.93,215.64 164.93,215.31 166.57,215.31 166.57,214.99 168.21,214.99 168.21,214.66 169.86,214.66 169.86,214.33 171.50,214.33 171.50,214.00 173.16,214.00 173.16,213.79 174.81,213.79 174.81,213.57 176.47,213.57 176.47,213.36 178.13,213.36 178.13,213.14 179.79,213.14 179.79,212.93 181.44,212.93 181.44,212.71 183.10,212.71 183.10,212.50 184.74,212.50 184.74,212.19 186.39,212.19 186.39,211.87 188.03,211.87 188.03,211.56 189.67,211.56 189.67,211.24 191.31,211.24 191.31,210.93 192.96,210.93 192.96,210.61 194.60,210.61 194.60,210.30 196.26,210.30 196.26,210.06 197.91,210.06 197.91,209.81 199.57,209.81 199.57,209.57 201.23,209.57 201.23,209.33 202.89,209.33 202.89,209.09 204.54,209.09 204.54,208.84 206.20,208.84 206.20,208.60 207.73,208.60 207.73,208.34 209.27,208.34 209.27,208.09 210.80,208.09 210.80,207.83 212.33,207.83 212.33,207.58 213.87,207.58 213.87,207.32 215.40,207.32 215.40,207.07 216.93,207.07 216.93,206.81 218.47,206.81 218.47,206.56 220.00,206.56 220.00,206.30 221.64,206.30 221.64,205.97 223.29,205.97 223.29,205.64 224.93,205.64 224.93,205.31 226.57,205.31 226.57,204.99 228.21,204.99 228.21,204.66 229.86,204.66 229.86,204.33 231.50,204.33 231.50,204.00 233.16,204.00 233.16,203.79 234.81,203.79 234.81,203.57 236.47,203.57 236.47,203.36 238.13,203.36 238.13,203.14 239.79,203.14 239.79,202.93 241.44,202.93 241.44,202.71 243.10,202.71 243.10,202.50 244.74,202.50 244.74,202.23 246.39,202.23 246.39,201.96 248.03,201.96 248.03,201.69 249.67,201.69 249.67,201.41 251.31,201.41 251.31,201.14 252.96,201.14 252.96,200.87 254.60,200.87 254.60,200.60 256.26,200.60 256.26,200.34 257.91,200.34 257.91,200.09 259.57,200.09 259.57,199.83 261.23,199.83 261.23,199.57 262.89,199.57 262.89,199.31 264.54,199.31 264.54,199.06 266.20,199.06 266.20,198.80 267.73,198.80 267.73,198.61 269.27,198.61 269.27,198.42 270.80,198.42 270.80,198.23 272.33,198.23 272.33,198.04 273.87,198.04 273.87,197.86 275.40,197.86 275.40,197.67 276.93,197.67 276.93,197.48 278.47,197.48 278.47,197.29 280.00,197.29 280.00,197.10 281.64,197.10 281.64,196.87 283.29,196.87 283.29,196.64 284.93,196.64 284.93,196.41 286.57,196.41 286.57,196.19 288.21,196.19 288.21,195.96 289.86,195.96 289.86,195.73 291.50,195.73 291.50,195.50 293.16,195.50 293.16,195.26 294.81,195.26 294.81,195.01 296.47,195.01 296.47,194.77 298.13,194.77 298.13,194.53 299.79,194.53 299.79,194.29 301.44,194.29 301.44,194.04 303.10,194.04 303.10,193.80 304.74,193.80 304.74,193.64 306.39,193.64 306.39,193.47 308.03,193.47 308.03,193.31 309.67,193.31 309.67,193.14 311.31,193.14 311.31,192.98 312.96,192.98 312.96,192.81 314.60,192.81 314.60,192.65 316.13,192.65 316.13,192.17 317.67,192.17 317.67,191.68 319.20,191.68 319.20,191.20 320.95,191.20 320.95,190.90 322.70,190.90 322.70,190.60 324.45,190.60 324.45,190.30 326.20,190.30 326.20,190.00 327.73,190.00 327.73,189.60 329.27,189.60 329.27,189.20 330.80,189.20 330.80,188.80 332.33,188.80 332.33,188.63 333.87,188.63 333.87,188.47 335.40,188.47 335.40,188.30 336.93,188.30 336.93,188.13 338.47,188.13 338.47,187.97 340.00,187.97 340.00,187.80 341.73,187.80 341.73,187.47 343.47,187.47 343.47,187.13 345.20,187.13 345.20,186.80 346.93,186.80 346.93,186.47 348.67,186.47 348.67,186.13 350.40,186.13 350.40,185.80 351.89,185.80 351.89,185.66 353.37,185.66 353.37,185.53 354.86,185.53 354.86,185.39 356.34,185.39 356.34,185.26 357.83,185.26 357.83,185.12 359.31,185.12 359.31,184.99 360.80,184.99 360.80,184.85 362.44,184.85 362.44,184.57 364.09,184.57 364.09,184.29 365.73,184.29 365.73,184.01 367.37,184.01 367.37,183.74 369.01,183.74 369.01,183.46 370.66,183.46 370.66,183.18 372.30,183.18 372.30,182.90 374.03,182.90 374.03,182.57 375.77,182.57 375.77,182.23 377.50,182.23 377.50,181.90 379.23,181.90 379.23,181.57 380.97,181.57 380.97,181.23 382.70,181.23 382.70,180.90 384.23,180.90 384.23,180.78 385.77,180.78 385.77,180.67 387.30,180.67 387.30,180.55 388.83,180.55 388.83,180.43 390.37,180.43 390.37,180.32 391.90,180.32 391.90,180.20 393.52,180.20 393.52,180.10 395.14,180.10 395.14,180.00 396.76,180.00 396.76,179.90 398.38,179.90 398.38,179.80 400.00,179.80 400.00,179.70 401.64,179.70 401.64,179.43 403.29,179.43 403.29,179.16 404.93,179.16 404.93,178.89 406.57,178.89 406.57,178.61 408.21,178.61 408.21,178.34 409.86,178.34 409.86,178.07 411.50,178.07 411.50,177.80 413.16,177.80 413.16,177.64 414.81,177.64 414.81,177.49 416.47,177.49 416.47,177.33 418.13,177.33 418.13,177.17 419.79,177.17 419.79,177.01 421.44,177.01 421.44,176.86 423.10,176.86 423.10,176.70 424.63,176.70 424.63,176.40 426.17,176.40 426.17,176.10 427.70,176.10 427.70,175.80 429.23,175.80 429.23,175.70 430.77,175.70 430.77,175.60 432.30,175.60 432.30,175.50 433.83,175.50 433.83,175.40 435.37,175.40 435.37,175.30 436.90,175.30 436.90,175.20 438.45,175.20 438.45,174.95 440.00,174.95 440.00,174.70 441.55,174.70 441.55,174.45 443.10,174.45 443.10,174.20 444.65,174.20 444.65,173.95 446.20,173.95 446.20,173.70 447.93,173.70 447.93,173.40 449.65,173.40 449.65,173.10 451.38,173.10 451.38,172.80 453.10,172.80 453.10,172.50 454.83,172.50 454.83,172.12 456.55,172.12 456.55,171.75 458.27,171.75 458.27,171.38 460.00,171.38 460.00,171.00 461.54,171.00 461.54,170.83 463.09,170.83 463.09,170.66 464.63,170.66 464.63,170.49 466.17,170.49 466.17,170.31 467.71,170.31 467.71,170.14 469.26,170.14 469.26,169.97 470.80,169.97 470.80,169.80 472.23,169.80 472.23,169.55 473.65,169.55 473.65,169.30 475.07,169.30 475.07,169.05 476.50,169.05 476.50,168.80 477.95,168.80 477.95,168.62 479.40,168.62 479.40,168.45 480.85,168.45 480.85,168.28 482.30,168.28 482.30,168.10 483.75,168.10 483.75,167.25 485.20,167.25 485.20,166.40 486.88,166.40 486.88,166.28 488.56,166.28 488.56,166.16 490.24,166.16 490.24,166.04 491.92,166.04 491.92,165.92 493.60,165.92 493.60,165.80" stroke="#ad0030" stroke-width="1.5" fill="none" stroke-linejoin="round"/>
<polyline transform="translate(0,0.15)" points="57.50,233.30 58.75,233.30 58.75,233.20 60.00,233.20 60.00,233.10 61.25,233.10 61.25,233.00 62.20,233.00 62.20,230.80 64.10,230.80 64.10,230.50 65.50,230.50 65.50,230.05 66.90,230.05 66.90,229.60 68.05,229.60 68.05,229.20 69.20,229.20 69.20,228.80 70.35,228.80 70.35,228.40 71.50,228.40 71.50,228.00 72.67,228.00 72.67,227.37 73.83,227.37 73.83,226.73 75.00,226.73 75.00,226.10 76.17,226.10 76.17,225.60 77.33,225.60 77.33,225.10 78.50,225.10 78.50,224.60 79.63,224.60 79.63,224.03 80.77,224.03 80.77,223.47 81.90,223.47 81.90,222.90 83.07,222.90 83.07,222.43 84.23,222.43 84.23,221.97 85.40,221.97 85.40,221.50 86.55,221.50 86.55,221.20 87.70,221.20 87.70,220.90 88.85,220.90 88.85,220.60 90.00,220.60 90.00,220.30 91.15,220.30 91.15,219.93 92.30,219.93 92.30,219.55 93.45,219.55 93.45,219.18 94.60,219.18 94.60,218.80 95.75,218.80 95.75,218.23 96.90,218.23 96.90,217.65 98.05,217.65 98.05,217.07 99.20,217.07 99.20,216.50 100.65,216.50 100.65,215.90 102.10,215.90 102.10,215.30 103.33,215.30 103.33,215.00 104.57,215.00 104.57,214.70 105.80,214.70 105.80,214.40 107.22,214.40 107.22,213.97 108.65,213.97 108.65,213.55 110.08,213.55 110.08,213.12 111.50,213.12 111.50,212.70 112.95,212.70 112.95,212.35 114.40,212.35 114.40,212.00 115.85,212.00 115.85,211.65 117.30,211.65 117.30,211.30 118.47,211.30 118.47,210.80 119.63,210.80 119.63,210.30 120.80,210.30 120.80,209.80 122.10,209.80 122.10,209.76 123.40,209.76 123.40,209.73 124.70,209.73 124.70,209.69 126.00,209.69 126.00,209.65 127.30,209.65 127.30,209.61 128.60,209.61 128.60,209.57 129.90,209.57 129.90,209.54 131.20,209.54 131.20,209.50 132.33,209.50 132.33,208.83 133.47,208.83 133.47,208.17 134.60,208.17 134.60,207.50 136.05,207.50 136.05,207.07 137.50,207.07 137.50,206.65 138.95,206.65 138.95,206.23 140.40,206.23 140.40,205.80 141.85,205.80 141.85,205.45 143.30,205.45 143.30,205.10 144.75,205.10 144.75,204.75 146.20,204.75 146.20,204.40 147.35,204.40 147.35,203.82 148.50,203.82 148.50,203.25 149.65,203.25 149.65,202.68 150.80,202.68 150.80,202.10 151.95,202.10 151.95,201.80 153.10,201.80 153.10,201.50 154.25,201.50 154.25,201.20 155.40,201.20 155.40,200.90 156.55,200.90 156.55,200.75 157.70,200.75 157.70,200.60 158.85,200.60 158.85,200.45 160.00,200.45 160.00,200.30 161.45,200.30 161.45,199.75 162.90,199.75 162.90,199.20 164.05,199.20 164.05,197.95 165.20,197.95 165.20,196.70 166.65,196.70 166.65,195.95 168.10,195.95 168.10,195.20 169.25,195.20 169.25,194.60 170.40,194.60 170.40,194.00 171.85,194.00 171.85,193.60 173.30,193.60 173.30,193.20 174.45,193.20 174.45,192.45 175.60,192.45 175.60,191.70 176.90,191.70 176.90,191.57 178.20,191.57 178.20,191.45 179.50,191.45 179.50,191.32 180.80,191.32 180.80,191.20 181.93,191.20 181.93,190.50 183.07,190.50 183.07,189.80 184.20,189.80 184.20,189.10 185.57,189.10 185.57,188.33 186.93,188.33 186.93,187.57 188.30,187.57 188.30,186.80 189.45,186.80 189.45,186.40 190.60,186.40 190.60,186.00 191.75,186.00 191.75,185.60 192.90,185.60 192.90,185.20 194.05,185.20 194.05,184.45 195.20,184.45 195.20,183.70 196.53,183.70 196.53,183.40 197.87,183.40 197.87,183.10 199.20,183.10 199.20,182.80 200.57,182.80 200.57,182.50 201.93,182.50 201.93,182.20 203.30,182.20 203.30,181.90 209.00,181.90 210.50,181.90 210.50,180.20 220.00,179.90 221.31,179.90 221.31,179.77 222.63,179.77 222.63,179.64 223.94,179.64 223.94,179.51 225.26,179.51 225.26,179.39 226.57,179.39 226.57,179.26 227.89,179.26 227.89,179.13 229.20,179.13 229.20,179.00 230.45,179.00 230.45,178.95 231.70,178.95 231.70,178.90 232.95,178.90 232.95,178.85 234.20,178.85 234.20,178.80 235.45,178.80 235.45,178.75 236.70,178.75 236.70,178.70 237.85,178.70 237.85,178.10 239.00,178.10 239.00,177.50 240.17,177.50 240.17,177.30 241.33,177.30 241.33,177.10 242.50,177.10 242.50,176.90 243.65,176.90 243.65,176.35 244.80,176.35 244.80,175.80 245.95,175.80 245.95,174.90 247.10,174.90 247.10,174.00 248.25,174.00 248.25,173.25 249.40,173.25 249.40,172.50 250.85,172.50 250.85,171.85 252.30,171.85 252.30,171.20 253.45,171.20 253.45,169.90 254.60,169.90 254.60,168.60 262.10,168.60 263.55,168.60 263.55,168.15 265.00,168.15 265.00,167.70 266.17,167.70 266.17,167.13 267.33,167.13 267.33,166.57 268.50,166.57 268.50,166.00 269.65,166.00 269.65,164.85 270.80,164.85 270.80,163.70 272.25,163.70 272.25,163.25 273.70,163.25 273.70,162.80 275.10,162.80 275.10,162.20 276.50,162.20 276.50,161.60 280.00,161.40 281.20,161.40 281.20,160.40 282.35,160.40 282.35,159.55 283.50,159.55 283.50,158.70 290.40,158.70 291.55,158.70 291.55,157.80 292.70,157.80 292.70,156.90 293.30,156.90 293.30,156.00 297.90,156.00 299.05,156.00 299.05,155.30 300.20,155.30 300.20,154.60 301.90,154.60 301.90,152.90 303.27,152.90 303.27,152.77 304.63,152.77 304.63,152.63 306.00,152.63 306.00,152.50 307.70,152.50 307.70,151.70 312.90,151.70 314.60,151.70 314.60,150.00 315.77,150.00 315.77,149.53 316.93,149.53 316.93,149.07 318.10,149.07 318.10,148.60 319.55,148.60 319.55,148.15 321.00,148.15 321.00,147.70 322.70,147.70 322.70,147.10 323.85,147.10 323.85,145.95 325.00,145.95 325.00,144.80 326.45,144.80 326.45,144.65 327.90,144.65 327.90,144.50 329.00,144.50 329.00,143.70 337.10,143.70 338.30,143.70 338.30,142.50 340.00,142.50 340.00,142.10 341.20,142.10 341.20,141.00 342.90,141.00 342.90,138.90 346.30,138.70 347.50,138.70 347.50,137.70 357.30,137.70 358.50,137.70 358.50,135.50 360.20,135.50 360.20,133.70 361.35,133.70 361.35,132.90 362.50,132.90 362.50,132.10 363.67,132.10 363.67,131.97 364.83,131.97 364.83,131.83 366.00,131.83 366.00,131.70 367.10,131.70 367.10,130.20 379.80,130.20 380.40,130.20 380.40,127.10 382.10,127.10 382.10,125.60 383.25,125.60 383.25,124.65 384.40,124.65 384.40,123.70 385.77,123.70 385.77,123.57 387.13,123.57 387.13,123.43 388.50,123.43 388.50,123.30 389.60,123.30 389.60,121.90 407.20,121.90 407.20,119.90 453.10,119.90 453.10,116.30 456.40,116.30 456.40,112.80 461.60,112.80 461.60,108.80 469.30,108.80 469.30,104.70 493.90,104.70" stroke="#183a78" stroke-width="1.5" fill="none" stroke-linejoin="miter"/>
<text transform="translate(171.99,33.90) scale(0.9632,1)" font-size="7.8" fill="#222" color="#222">Age Split</text>
<text transform="translate(213.29,33.90) scale(0.9481,1)" font-size="7.8" fill="#222" color="#222">Events/Total</text>
<text transform="translate(263.27,33.90) scale(0.9843,1)" font-size="7.8" fill="#222" color="#222">Median (95% CI)</text>
<text transform="translate(330.38,33.90) scale(0.9957,1)" font-size="7.8" fill="#222" color="#222">Adj HR (95% CI)</text>
<text transform="translate(396.74,33.90) scale(0.9152,1)" font-size="7.8" fill="#222" color="#222">Time-Point</text>
<path d="M515 0V1237L197 1010V1180L530 1409H696V0Z" transform="translate(440.762,33.900) scale(0.00374,-0.00381)" fill="#222" stroke="#222" stroke-width="0.15" vector-effect="non-scaling-stroke"/><text transform="translate(440.76,33.90) scale(0.9831,1)" font-size="7.8" fill="#222" color="#222"> -KM Est (95% CI)</text>
<path d="M155.4,43.2 H166.6" stroke="#ad0030" stroke-width="1.3"/>
<path d="M155.4,66.5 H166.4" stroke="#183a78" stroke-width="1.3"/>
<text transform="translate(168.86,45.80) scale(1.0145,1)" font-size="7.8" fill="#b3123d" color="#b3123d">age &lt;= 70</text>
<path d="M515 0V1237L197 1010V1180L530 1409H696V0Z" transform="translate(214.203,45.800) scale(0.00405,-0.00381)" fill="#b3123d" stroke="#b3123d" stroke-width="0.15" vector-effect="non-scaling-stroke"/><path d="M515 0V1237L197 1010V1180L530 1409H696V0Z" transform="translate(218.811,45.800) scale(0.00405,-0.00381)" fill="#b3123d" stroke="#b3123d" stroke-width="0.15" vector-effect="non-scaling-stroke"/><text transform="translate(214.20,45.80) scale(1.0621,1)" font-size="7.8" fill="#b3123d" color="#b3123d">  63/5366</text>
<path d="M515 0V1237L197 1010V1180L530 1409H696V0Z" transform="translate(266.549,45.800) scale(0.00381,-0.00381)" fill="#b3123d" stroke="#b3123d" stroke-width="0.15" vector-effect="non-scaling-stroke"/><path d="M515 0V1237L197 1010V1180L530 1409H696V0Z" transform="translate(286.525,45.800) scale(0.00381,-0.00381)" fill="#b3123d" stroke="#b3123d" stroke-width="0.15" vector-effect="non-scaling-stroke"/><text transform="translate(266.55,45.80) scale(1.0015,1)" font-size="7.8" fill="#b3123d" color="#b3123d"> 5.7 ( 4.4-NE)</text>
<text transform="translate(341.29,45.80) scale(0.9600,1)" font-size="7.8" fill="#b3123d" color="#b3123d">Reference</text>
<text transform="translate(401.64,45.80) scale(0.9234,1)" font-size="7.8" fill="#b3123d" color="#b3123d">2 Years</text>
<path d="M515 0V1237L197 1010V1180L530 1409H696V0Z" transform="translate(469.798,45.800) scale(0.00379,-0.00381)" fill="#b3123d" stroke="#b3123d" stroke-width="0.15" vector-effect="non-scaling-stroke"/><text transform="translate(447.79,45.80) scale(0.9953,1)" font-size="7.8" fill="#b3123d" color="#b3123d">5.9 (5. -6.6%)</text>
<text transform="translate(401.71,57.60) scale(0.9206,1)" font-size="7.8" fill="#b3123d" color="#b3123d">5 Years</text>
<path d="M515 0V1237L197 1010V1180L530 1409H696V0Z" transform="translate(441.657,57.600) scale(0.00377,-0.00381)" fill="#b3123d" stroke="#b3123d" stroke-width="0.15" vector-effect="non-scaling-stroke"/><path d="M515 0V1237L197 1010V1180L530 1409H696V0Z" transform="translate(461.406,57.600) scale(0.00377,-0.00381)" fill="#b3123d" stroke="#b3123d" stroke-width="0.15" vector-effect="non-scaling-stroke"/><path d="M515 0V1237L197 1010V1180L530 1409H696V0Z" transform="translate(479.009,57.600) scale(0.00377,-0.00381)" fill="#b3123d" stroke="#b3123d" stroke-width="0.15" vector-effect="non-scaling-stroke"/><text transform="translate(441.66,57.60) scale(0.9901,1)" font-size="7.8" fill="#b3123d" color="#b3123d"> 5.5 ( 4.2- 6.7%)</text>
<text transform="translate(171.67,69.20) scale(0.9852,1)" font-size="7.8" fill="#3b5998" color="#3b5998">age &gt; 70</text>
<text transform="translate(218.78,69.20) scale(1.0790,1)" font-size="7.8" fill="#3b5998" color="#3b5998">208/539</text>
<text transform="translate(271.51,69.20) scale(0.9686,1)" font-size="7.8" fill="#3b5998" color="#3b5998">7.4 (6.5-9.3)</text>
<text transform="translate(331.51,69.20) scale(0.9867,1)" font-size="7.8" fill="#3b5998" color="#3b5998">2.74 (2.26-3.32)</text>
<text transform="translate(401.64,69.20) scale(0.9234,1)" font-size="7.8" fill="#3b5998" color="#3b5998">2 Years</text>
<text transform="translate(448.42,69.20) scale(0.9682,1)" font-size="7.8" fill="#3b5998" color="#3b5998">6.8 (6.2-7.5%)</text>
<text transform="translate(401.71,80.90) scale(0.9206,1)" font-size="7.8" fill="#3b5998" color="#3b5998">5 Years</text>
<path d="M515 0V1237L197 1010V1180L530 1409H696V0Z" transform="translate(441.964,80.900) scale(0.00373,-0.00381)" fill="#3b5998" stroke="#3b5998" stroke-width="0.15" vector-effect="non-scaling-stroke"/><path d="M515 0V1237L197 1010V1180L530 1409H696V0Z" transform="translate(461.518,80.900) scale(0.00373,-0.00381)" fill="#3b5998" stroke="#3b5998" stroke-width="0.15" vector-effect="non-scaling-stroke"/><path d="M515 0V1237L197 1010V1180L530 1409H696V0Z" transform="translate(478.946,80.900) scale(0.00373,-0.00381)" fill="#3b5998" stroke="#3b5998" stroke-width="0.15" vector-effect="non-scaling-stroke"/><text transform="translate(441.96,80.90) scale(0.9803,1)" font-size="7.8" fill="#3b5998" color="#3b5998"> 7.0 ( 5.9- 8.0%)</text>
<text transform="translate(6.56,285.30) scale(1.0248,1)" font-size="7.7" fill="#b3123d" color="#b3123d" style="stroke-width:0.05px">age &lt;= 70</text>
<text transform="translate(11.97,297.20) scale(0.9980,1)" font-size="7.7" fill="#3b5998" color="#3b5998" style="stroke-width:0.05px">age &gt; 70</text>
<text x="48.28" y="285.15" font-size="8.2" fill="#b3123d" color="#b3123d">5366</text>
<text x="91.93" y="285.15" font-size="8.2" fill="#b3123d" color="#b3123d">5079</text>
<text x="135.58" y="285.15" font-size="8.2" fill="#b3123d" color="#b3123d">4778</text>
<text x="179.23" y="285.15" font-size="8.2" fill="#b3123d" color="#b3123d">4453</text>
<text x="222.88" y="285.15" font-size="8.2" fill="#b3123d" color="#b3123d">3679</text>
<path d="M515 0V1237L197 1010V1180L530 1409H696V0Z" transform="translate(280.210,285.150) scale(0.00400,-0.00400)" fill="#b3123d" stroke="#b3123d" stroke-width="0.15" vector-effect="non-scaling-stroke"/><text x="266.53" y="285.15" font-size="8.2" fill="#b3123d" color="#b3123d">267 </text>
<path d="M515 0V1237L197 1010V1180L530 1409H696V0Z" transform="translate(310.179,285.150) scale(0.00400,-0.00400)" fill="#b3123d" stroke="#b3123d" stroke-width="0.15" vector-effect="non-scaling-stroke"/><text x="310.18" y="285.15" font-size="8.2" fill="#b3123d" color="#b3123d"> 975</text>
<path d="M515 0V1237L197 1010V1180L530 1409H696V0Z" transform="translate(353.829,285.150) scale(0.00400,-0.00400)" fill="#b3123d" stroke="#b3123d" stroke-width="0.15" vector-effect="non-scaling-stroke"/><path d="M515 0V1237L197 1010V1180L530 1409H696V0Z" transform="translate(367.510,285.150) scale(0.00400,-0.00400)" fill="#b3123d" stroke="#b3123d" stroke-width="0.15" vector-effect="non-scaling-stroke"/><text x="353.83" y="285.15" font-size="8.2" fill="#b3123d" color="#b3123d"> 58 </text>
<path d="M515 0V1237L197 1010V1180L530 1409H696V0Z" transform="translate(397.479,285.150) scale(0.00400,-0.00400)" fill="#b3123d" stroke="#b3123d" stroke-width="0.15" vector-effect="non-scaling-stroke"/><path d="M515 0V1237L197 1010V1180L530 1409H696V0Z" transform="translate(402.040,285.150) scale(0.00400,-0.00400)" fill="#b3123d" stroke="#b3123d" stroke-width="0.15" vector-effect="non-scaling-stroke"/><text x="397.48" y="285.15" font-size="8.2" fill="#b3123d" color="#b3123d">  07</text>
<text x="443.41" y="285.15" font-size="8.2" fill="#b3123d" color="#b3123d">706</text>
<text x="487.06" y="285.15" font-size="8.2" fill="#b3123d" color="#b3123d">480</text>
<text x="50.56" y="297.05" font-size="8.2" fill="#3b5998" color="#3b5998">539</text>
<text x="94.21" y="297.05" font-size="8.2" fill="#3b5998" color="#3b5998">484</text>
<text x="137.86" y="297.05" font-size="8.2" fill="#3b5998" color="#3b5998">447</text>
<text x="181.51" y="297.05" font-size="8.2" fill="#3b5998" color="#3b5998">387</text>
<text x="225.16" y="297.05" font-size="8.2" fill="#3b5998" color="#3b5998">286</text>
<path d="M515 0V1237L197 1010V1180L530 1409H696V0Z" transform="translate(268.809,297.050) scale(0.00400,-0.00400)" fill="#3b5998" stroke="#3b5998" stroke-width="0.15" vector-effect="non-scaling-stroke"/><text x="268.81" y="297.05" font-size="8.2" fill="#3b5998" color="#3b5998"> 85</text>
<path d="M515 0V1237L197 1010V1180L530 1409H696V0Z" transform="translate(312.459,297.050) scale(0.00400,-0.00400)" fill="#3b5998" stroke="#3b5998" stroke-width="0.15" vector-effect="non-scaling-stroke"/><text x="312.46" y="297.05" font-size="8.2" fill="#3b5998" color="#3b5998"> 24</text>
<text x="358.39" y="297.05" font-size="8.2" fill="#3b5998" color="#3b5998">85</text>
<path d="M515 0V1237L197 1010V1180L530 1409H696V0Z" transform="translate(406.600,297.050) scale(0.00400,-0.00400)" fill="#3b5998" stroke="#3b5998" stroke-width="0.15" vector-effect="non-scaling-stroke"/><text x="402.04" y="297.05" font-size="8.2" fill="#3b5998" color="#3b5998">5 </text>
<text x="445.69" y="297.05" font-size="8.2" fill="#3b5998" color="#3b5998">27</text>
<path d="M515 0V1237L197 1010V1180L530 1409H696V0Z" transform="translate(489.340,297.050) scale(0.00400,-0.00400)" fill="#3b5998" stroke="#3b5998" stroke-width="0.15" vector-effect="non-scaling-stroke"/><text x="489.34" y="297.05" font-size="8.2" fill="#3b5998" color="#3b5998"> 5</text>
</g>
<rect x="0" y="0" width="1.4" height="614" fill="#000"/>
<rect x="0" y="0" width="520" height="1.2" fill="#000"/>
<rect x="518.5" y="0" width="1.5" height="614" fill="#000"/>
<rect x="0" y="612.7" width="520" height="1.3" fill="#000"/>
</svg>
</body></html>
